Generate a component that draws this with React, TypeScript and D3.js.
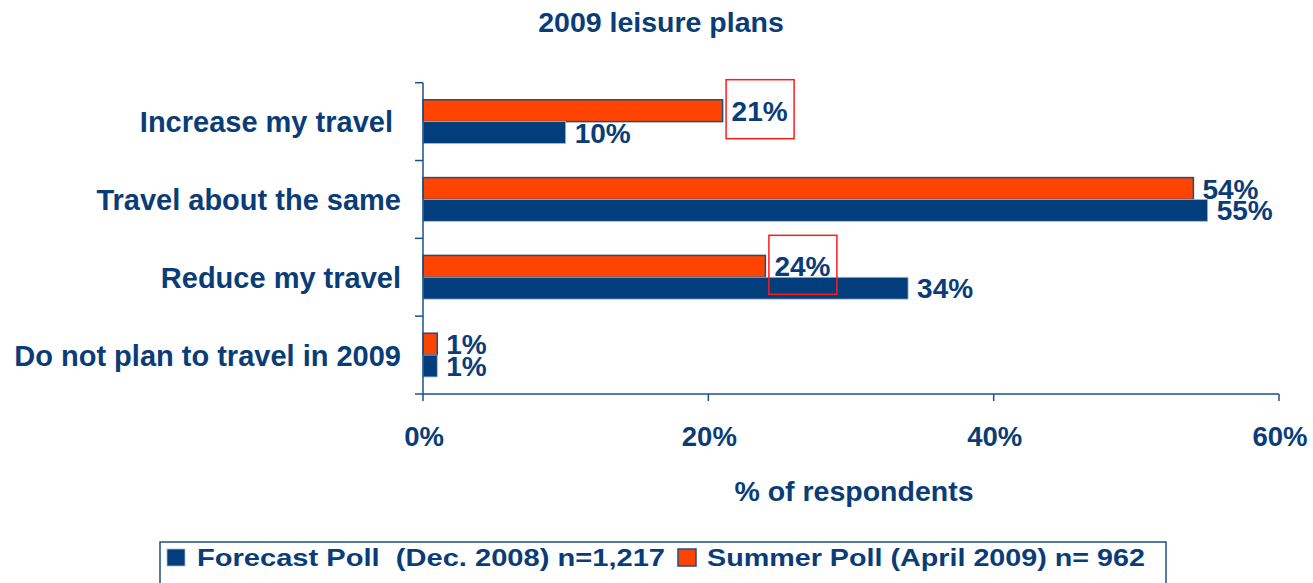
import React from "react";
import * as d3 from "d3";

const categories = [
  "Increase my travel ",
  "Travel about the same",
  "Reduce my travel",
  "Do not plan to travel in 2009",
];
const seriesNames = ["Summer Poll (April 2009) n= 962", "Forecast Poll  (Dec. 2008) n=1,217"];
const summerValues = [0.21, 0.54, 0.24, 0.01];
const forecastValues = [0.1, 0.55, 0.34, 0.01];
const xTicks = [0, 0.2, 0.4, 0.6];
const highlighted = [0, 2]; // summer labels boxed in red

const BLUE = "#023e7b";
const ORANGE = "#ff4400";
const TEXT = "#0a3d77";
const AXIS = "#1c4f8a";
const FONT = "'Liberation Sans', Arial, sans-serif";

export default function App() {
  const width = 1313;
  const height = 583;
  const margin = { left: 423, right: 34, top: 82.7, bottom: 189 };

  const x = d3.scaleLinear().domain([0, 0.6]).range([margin.left, width - margin.right]);
  const y = d3
    .scaleBand<string>()
    .domain(categories)
    .range([margin.top, height - margin.bottom]);
  const inner = d3
    .scaleBand<string>()
    .domain(seriesNames)
    .range([0, y.bandwidth()])
    .paddingInner(0)
    .paddingOuter(0.78);

  const fmt = d3.format(".0%");
  const rows = categories.map((c, i) => ({
    cat: c,
    summer: summerValues[i],
    forecast: forecastValues[i],
  }));
  const y0 = y.range()[0];
  const y1 = y.range()[1];
  const bh = inner.bandwidth();

  return (
    <svg
      width={width}
      height={height}
      style={{ position: "fixed", left: 0, top: 0, background: "#fff" }}
      fontFamily={FONT}
      fontWeight="bold"
    >
      <text x={661} y={32} textAnchor="middle" fontSize={28.5} fill={TEXT}>
        2009 leisure plans
      </text>

      {/* bars */}
      {rows.map((r, i) => {
        const ys = y(r.cat)! + inner(seriesNames[0])!;
        const yf = y(r.cat)! + inner(seriesNames[1])!;
        return (
          <g key={r.cat}>
            <rect
              x={x(0)}
              y={ys}
              width={x(r.summer) - x(0)}
              height={bh}
              fill={ORANGE}
              stroke={AXIS}
              strokeWidth={1.5}
            />
            <rect
              x={x(0)}
              y={yf}
              width={x(r.forecast) - x(0)}
              height={bh}
              fill={BLUE}
              stroke="#a8bbd6"
              strokeWidth={0.8}
            />
            <text
              x={x(r.summer) + 9}
              y={ys + bh / 2}
              dy="0.36em"
              fontSize={28}
              fill={TEXT}
            >
              {fmt(r.summer)}
            </text>
            <text
              x={x(r.forecast) + 9}
              y={yf + bh / 2}
              dy="0.36em"
              fontSize={28}
              fill={TEXT}
            >
              {fmt(r.forecast)}
            </text>
            {highlighted.includes(i) && (
              <rect
                x={x(r.summer) + 3.5}
                y={ys + bh / 2 - 31}
                width={68}
                height={59}
                fill="none"
                stroke="#ff1a1a"
                strokeWidth={1.5}
              />
            )}
            <text
              x={401}
              y={y(r.cat)! + y.bandwidth() / 2}
              dy="0.36em"
              textAnchor="end"
              fontSize={29}
              fill={TEXT}
              style={{ whiteSpace: "pre" }}
            >
              {r.cat}
            </text>
          </g>
        );
      })}

      {/* y axis */}
      <line x1={x(0)} x2={x(0)} y1={y0} y2={y1} stroke={AXIS} strokeWidth={1.5} />
      {[...categories.map((c) => y(c)!), y1].map((v, i) => (
        <line key={i} x1={x(0) - 8} x2={x(0)} y1={v} y2={v} stroke={AXIS} strokeWidth={1.5} />
      ))}

      {/* x axis */}
      <line x1={x(0)} x2={x(0.6)} y1={y1} y2={y1} stroke={AXIS} strokeWidth={1.5} />
      {xTicks.map((t) => (
        <g key={t}>
          <line x1={x(t)} x2={x(t)} y1={y1} y2={y1 + 7} stroke={AXIS} strokeWidth={1.5} />
          <text x={x(t) + 1} y={446} textAnchor="middle" fontSize={27.5} fill={TEXT}>
            {fmt(t)}
          </text>
        </g>
      ))}
      <text x={(x(0) + x(0.6)) / 2 + 3} y={501} textAnchor="middle" fontSize={28.5} fill={TEXT}>
        % of respondents
      </text>

      {/* legend */}
      <rect x={160} y={542} width={1006} height={60} fill="#fff" stroke={AXIS} strokeWidth={1.5} />
      <rect x={167} y={549} width={18} height={17} fill={BLUE} stroke="#a8bbd6" strokeWidth={0.8} />
      <text
        x={197}
        y={566}
        fontSize={23}
        fill={TEXT}
        textLength={468}
        lengthAdjust="spacingAndGlyphs"
        style={{ whiteSpace: "pre" }}
      >
        {seriesNames[1]}
      </text>
      <rect x={678} y={549} width={18} height={17} fill={ORANGE} stroke={AXIS} strokeWidth={1.5} />
      <text
        x={707}
        y={566}
        fontSize={23}
        fill={TEXT}
        textLength={438}
        lengthAdjust="spacingAndGlyphs"
        style={{ whiteSpace: "pre" }}
      >
        {seriesNames[0]}
      </text>
    </svg>
  );
}
